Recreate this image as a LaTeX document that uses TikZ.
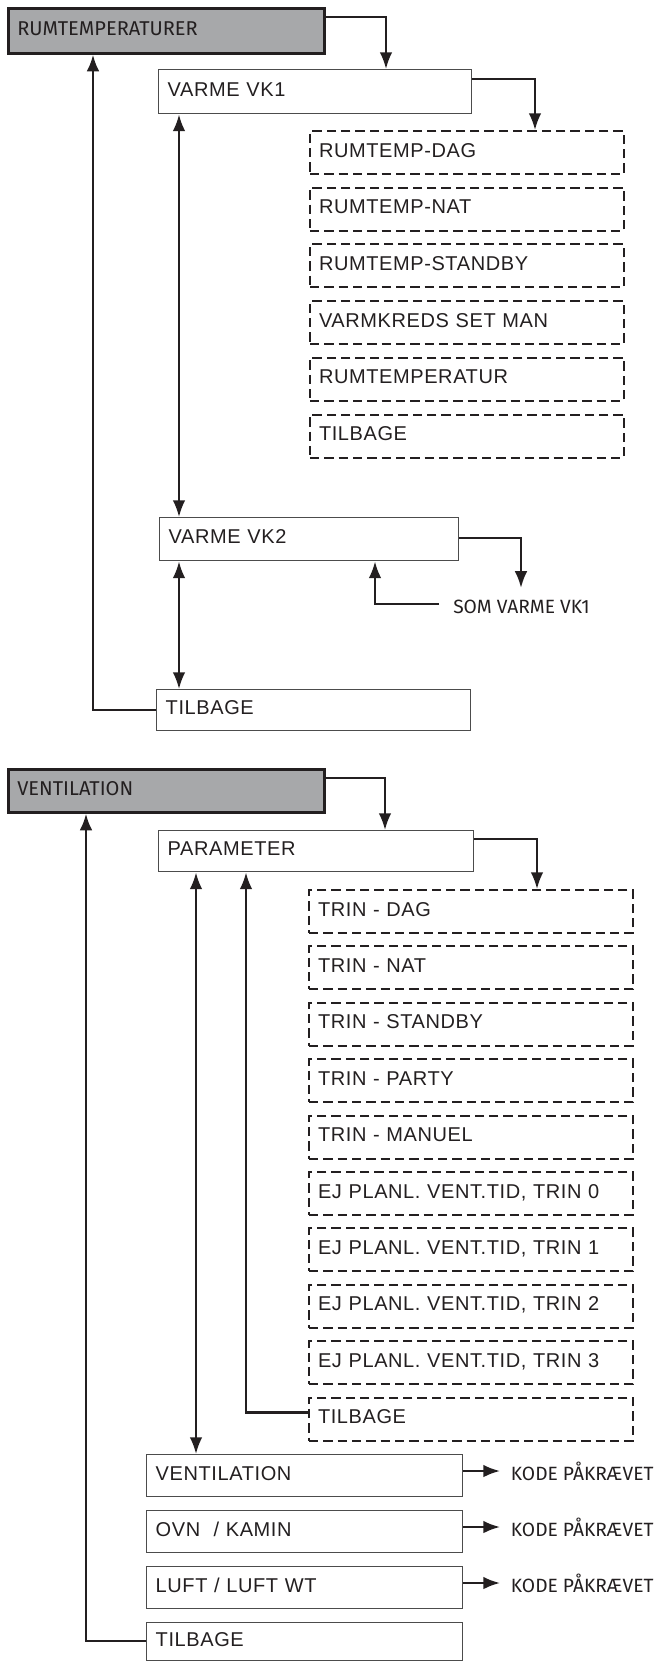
\documentclass[tikz,border=0pt]{standalone}
\usepackage{fontspec}
\setmainfont{Liberation Sans}
\newfontfamily\menufont{Liberation Sans}[LetterSpace=3]
\newfontfamily\headfont{Fira Sans}
\usetikzlibrary{arrows.meta,calc}
\definecolor{headgray}{RGB}{167,168,170}
\definecolor{inkgray}{RGB}{35,31,32}
\tikzset{
  link/.style={draw=inkgray,line width=1.7pt,-{Latex[length=12.5pt,width=9.5pt]}},
  twoway/.style={draw=inkgray,line width=1.7pt,
    {Latex[length=12.5pt,width=9.5pt]}-{Latex[length=12.5pt,width=9.5pt]}},
  headbox/.style={draw=inkgray,line width=2pt,fill=headgray,anchor=north west,
    minimum height=33.75pt,text width=223.5pt,inner xsep=6.75pt,inner ysep=0pt,
    text depth=3pt,align=left,font=\headfont\fontsize{15pt}{17pt}\selectfont,text=inkgray},
  menubox/.style={draw=black!70,line width=1.1pt,anchor=north west,
    minimum height=33pt,inner xsep=6.75pt,inner ysep=0pt,text depth=3.5pt,align=left,
    font=\menufont\fontsize{15pt}{17pt}\selectfont,text=inkgray},
  optbox/.style={menubox,draw=inkgray,line width=1.5pt,dash pattern=on 7pt off 3.75pt,
    minimum height=32.25pt},
  note/.style={anchor=west,inner xsep=8pt,inner ysep=0pt,
    font=\headfont\fontsize{14.4pt}{17pt}\selectfont,text=inkgray},
}
\begin{document}
\begin{tikzpicture}[x=0.75pt,y=-0.75pt]
  \path[use as bounding box] (0,0) rectangle (659,1661);

  % room temperatures
  \node[headbox] (rum) at (7,7) {RUMTEMPERATURER};
  \node[menubox,text width=221.25pt] (vk1) at (158,69) {VARME VK1};
  \foreach \txt [count=\i from 0] in {RUMTEMP-DAG,RUMTEMP-NAT,RUMTEMP-STANDBY,
      VARMKREDS SET MAN,RUMTEMPERATUR,TILBAGE}
    \node[optbox,text width=222pt] (ra\i) at (309,{130+56.7*\i}) {\txt};
  \node[menubox,text width=210.75pt,minimum height=32.25pt] (vk2) at (159,517) {VARME VK2};
  \node[note,inner xsep=0pt] (som) at (453,607) {SOM VARME VK1};
  \coordinate (somtip) at ($(som.north west)+(68,-12)$);
  \coordinate (somtail) at ($(som.west)+(-14,-3)$);
  \node[menubox,text width=222pt,minimum height=30.75pt] (rtil) at (156,689) {TILBAGE};

  \draw[link] ($(rum.north east)+(0,10)$) -| ($(vk1.north west)+(228,0)$);
  \draw[link] ($(vk1.north east)+(0,10)$) -| ($(ra0.north west)+(226,0)$);
  \draw[twoway] ($(vk1.south west)+(21,0)$) -- ($(vk2.north west)+(20,0)$);
  \draw[link] ($(vk2.north east)+(0,21)$) -| (somtip);
  \draw[link] (somtail) -| ($(vk2.south west)+(216,0)$);
  \draw[twoway] ($(vk2.south west)+(20,0)$) -- ($(rtil.north west)+(23,0)$);
  \draw[link] ($(rtil.north west)+(0,21)$) -| ($(rum.south west)+(86,0)$);

  % ventilation
  \node[headbox,minimum height=32.25pt] (vent) at (7,768) {VENTILATION};
  \node[menubox,text width=222.75pt,minimum height=30.75pt] (param) at (158,830) {PARAMETER};
  \foreach \txt [count=\i from 0] in {TRIN - DAG,TRIN - NAT,TRIN - STANDBY,TRIN - PARTY,
      TRIN - MANUEL,{EJ PLANL. VENT.TID, TRIN 0},{EJ PLANL. VENT.TID, TRIN 1},
      {EJ PLANL. VENT.TID, TRIN 2},{EJ PLANL. VENT.TID, TRIN 3},TILBAGE}
    \node[optbox,text width=229.5pt] (vb\i) at (308,{889+56.4*\i}) {\txt};
  \foreach \txt [count=\i from 0] in {VENTILATION,OVN\ \ / KAMIN,LUFT / LUFT WT} {
    \node[menubox,text width=223.5pt,minimum height=31.5pt] (lv\i) at (146,{1454+56*\i}) {\txt};
    \node[note] (k\i) at (500,{1471+56*\i}) {KODE PÅKRÆVET};
    \draw[link] ($(lv\i.north east)+(0,17)$) -- (k\i.west);
  }
  \node[menubox,text width=223.5pt,minimum height=28.5pt] (vtil) at (146,1622) {TILBAGE};

  \draw[link] ($(vent.north east)+(0,10)$) -| ($(param.north west)+(227,0)$);
  \draw[link] ($(param.north east)+(0,9)$) -| ($(vb0.north west)+(229,0)$);
  \draw[twoway] ($(param.south west)+(38,0)$) -- ($(lv0.north west)+(50,0)$);
  \draw[link] ($(vb9.north west)+(0,16)$) -| ($(param.south west)+(88,0)$);
  \draw[link] ($(vtil.north west)+(0,19)$) -| ($(vent.south west)+(79,0)$);
\end{tikzpicture}
\end{document}
